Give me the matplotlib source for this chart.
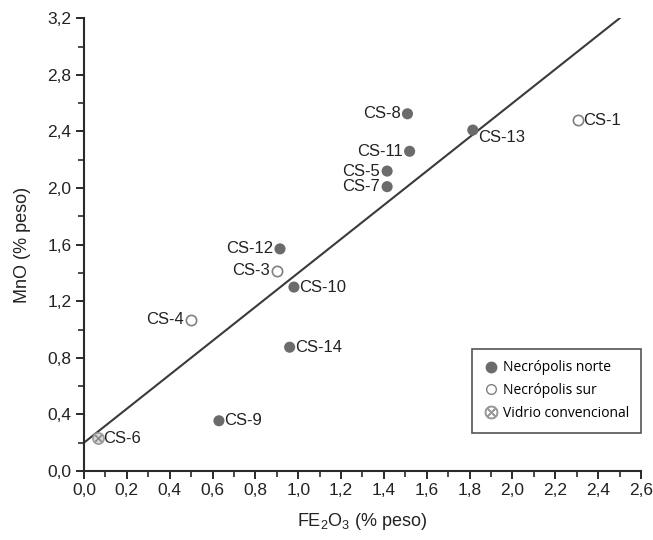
import matplotlib
matplotlib.use('Agg')
import matplotlib.pyplot as plt
from matplotlib.lines import Line2D
from matplotlib.ticker import MultipleLocator, FuncFormatter

plt.rcParams['font.family'] = ['Liberation Sans', 'DejaVu Sans']
plt.rcParams['mathtext.fontset'] = 'custom'
plt.rcParams['mathtext.rm'] = 'Liberation Sans'
plt.rcParams['mathtext.it'] = 'Liberation Sans'

# Muestras: necrópolis norte (relleno), sur (hueco), vidrio convencional
norte_labels = ['CS-8', 'CS-13', 'CS-11', 'CS-5', 'CS-7', 'CS-12', 'CS-10', 'CS-14', 'CS-9']
norte_fe = [1.51, 1.815, 1.52, 1.415, 1.415, 0.915, 0.98, 0.96, 0.63]
norte_mn = [2.525, 2.41, 2.26, 2.12, 2.01, 1.57, 1.30, 0.875, 0.355]
norte_side = ['l', 'rb', 'l', 'l', 'l', 'l', 'r', 'r', 'r']

sur_labels = ['CS-1', 'CS-3', 'CS-4']
sur_fe = [2.305, 0.90, 0.50]
sur_mn = [2.48, 1.415, 1.07]
sur_side = ['r', 'l', 'l']

vidrio_labels = ['CS-6']
vidrio_fe = [0.065]
vidrio_mn = [0.23]
vidrio_side = ['r']

# recta de ajuste
fit_x = [0.0, 2.5]
fit_intercept = 0.2
fit_slope = 1.2

dark = '#6b6b6b'

fig = plt.figure(figsize=(6.53, 5.4), dpi=100)
ax = fig.add_axes([0.1286, 0.1278, 0.9816 - 0.1286, 0.9661 - 0.1278])

ax.plot(fit_x, [fit_intercept + fit_slope * v for v in fit_x], color='#3a3a3a', lw=1.5, zorder=1)

ax.scatter(norte_fe, norte_mn, s=64, c=dark, edgecolors='none', zorder=3)
ax.scatter(sur_fe, sur_mn, s=55, facecolors='white', edgecolors='#808080', linewidths=1.2, zorder=3)
ax.scatter(vidrio_fe, vidrio_mn, s=64, facecolors='#d8d8d8', edgecolors='#9a9a9a', linewidths=1.2, zorder=3)
ax.scatter(vidrio_fe, vidrio_mn, s=24, marker='x', c='#8a8a8a', linewidths=1.2, zorder=4)


def annotate(labels, xs, ys, sides):
    for lab, x, y, side in zip(labels, xs, ys, sides):
        if side == 'l':
            ax.annotate(lab, (x, y), xytext=(-5, 0), textcoords='offset points',
                        ha='right', va='center', fontsize=12, color='#222222')
        elif side == 'rb':
            ax.annotate(lab, (x, y), xytext=(4, -5), textcoords='offset points',
                        ha='left', va='center', fontsize=12, color='#222222')
        else:
            ax.annotate(lab, (x, y), xytext=(4, 0), textcoords='offset points',
                        ha='left', va='center', fontsize=12, color='#222222')


annotate(norte_labels, norte_fe, norte_mn, norte_side)
annotate(sur_labels, sur_fe, sur_mn, sur_side)
annotate(vidrio_labels, vidrio_fe, vidrio_mn, vidrio_side)

ax.set_xlim(0, 2.6)
ax.set_ylim(0, 3.2)
ax.xaxis.set_major_locator(MultipleLocator(0.2))
ax.xaxis.set_minor_locator(MultipleLocator(0.1))
ax.yaxis.set_major_locator(MultipleLocator(0.4))
ax.yaxis.set_minor_locator(MultipleLocator(0.2))
comma = FuncFormatter(lambda v, p: f'{v:.1f}'.replace('.', ','))
ax.xaxis.set_major_formatter(comma)
ax.yaxis.set_major_formatter(comma)

for s in ['top', 'right']:
    ax.spines[s].set_visible(False)
for s in ['left', 'bottom']:
    ax.spines[s].set_linewidth(1.5)
    ax.spines[s].set_color('#2a2a2a')
ax.tick_params(which='major', length=6, width=1.4, color='#2a2a2a', labelsize=12.5,
               labelcolor='#222222', direction='out', pad=3)
ax.tick_params(which='minor', length=4, width=1.2, color='#2a2a2a', direction='out')

ax.set_xlabel('FE$_2$O$_3$ (% peso)', fontsize=13, color='#222222', labelpad=9)
ax.set_ylabel('MnO (% peso)', fontsize=13, color='#222222', labelpad=12)

handles = [
    Line2D([], [], ls='none', marker='o', ms=7.5, mfc=dark, mec=dark),
    Line2D([], [], ls='none', marker='o', ms=7, mfc='white', mec='#808080', mew=1),
    Line2D([], [], ls='none', marker='$\\otimes$', ms=9, color='#9a9a9a'),
]
leg = ax.legend(handles, ['Necrópolis norte', 'Necrópolis sur', 'Vidrio convencional'],
                loc='lower right', bbox_to_anchor=(1.0, 0.085), fancybox=False, framealpha=1,
                edgecolor='#555555', handletextpad=0.3, handlelength=1.1, borderpad=0.85,
                labelspacing=0.55, borderaxespad=0.0, prop={'family': 'Open Sans', 'size': 10})
leg.get_frame().set_linewidth(1.2)

plt.savefig('out.png', dpi=100)
plt.close()
